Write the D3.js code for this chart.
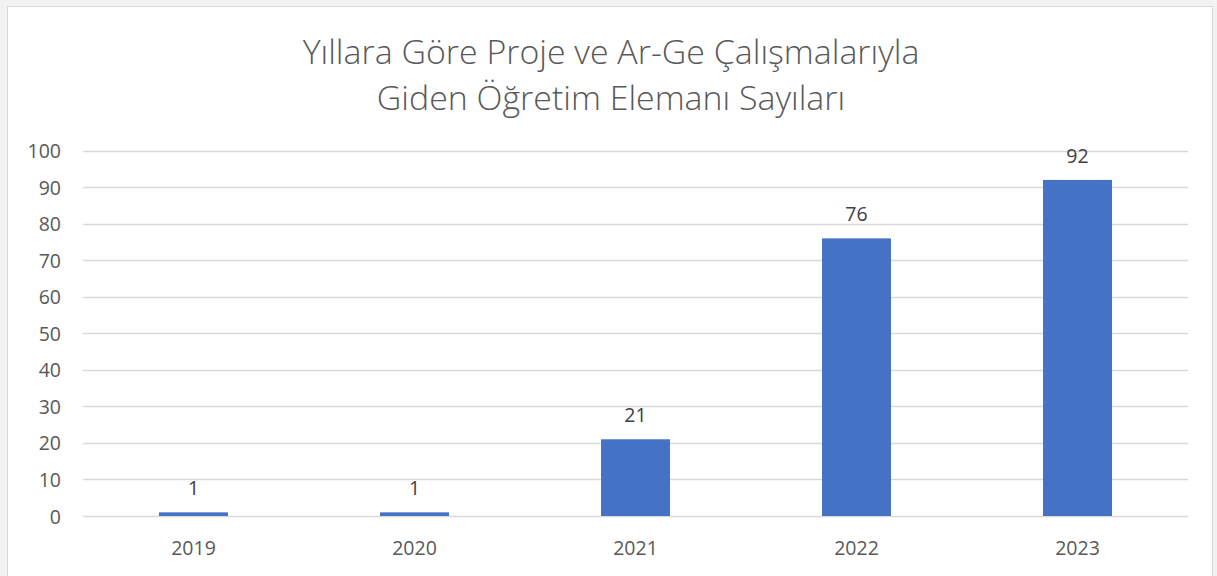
<!DOCTYPE html>
<html><head><meta charset="utf-8">
<script src="https://cdn.jsdelivr.net/npm/d3@7"></script>
<style>
html,body{margin:0;padding:0;background:#f2f2f2;}
svg{display:block;}
</style></head>
<body>
<svg id="chart" width="1217" height="576"></svg>
<script>
const titleLines = ["Yıllara Göre Proje ve Ar-Ge Çalışmalarıyla", "Giden Öğretim Elemanı Sayıları"];
const years = ["2019", "2020", "2021", "2022", "2023"];
const counts = [1, 1, 21, 76, 92];
const yTicks = [0, 10, 20, 30, 40, 50, 60, 70, 80, 90, 100];

const svg = d3.select("#chart");
const font = "'Open Sans', 'Noto Sans', sans-serif";
const labelSize = 19.5;

svg.append("rect").attr("x", 7.5).attr("y", 6.5).attr("width", 1205).attr("height", 580)
  .attr("fill", "#fff").attr("stroke", "#d9d9d9").attr("stroke-width", 1);

const m = {left: 83, right: 1188, top: 150.7, bottom: 516};
const x = d3.scaleBand().domain(years).range([m.left, m.right]).paddingInner(0.688).paddingOuter(0.344);
const y = d3.scaleLinear().domain([0, 100]).range([m.bottom, m.top]);

// gridlines
svg.append("g").selectAll("line").data(yTicks).join("line")
  .attr("x1", m.left).attr("x2", m.right)
  .attr("y1", d => Math.round(y(d)) + 0.5).attr("y2", d => Math.round(y(d)) + 0.5)
  .attr("stroke", "#d9d9d9").attr("stroke-width", 1.3);

// y axis
const yAxis = svg.append("g").attr("transform", `translate(${m.left - 22},0)`)
  .call(d3.axisLeft(y).tickValues(yTicks).tickSize(0).tickPadding(0));
yAxis.select(".domain").remove();
yAxis.selectAll("text").attr("font-family", font).attr("font-size", labelSize).attr("fill", "#595959").attr("dy", "0.36em");

// x axis
const xAxis = svg.append("g").attr("transform", `translate(0,${m.bottom})`)
  .call(d3.axisBottom(x).tickSize(0).tickPadding(0));
xAxis.select(".domain").remove();
xAxis.selectAll("text").attr("font-family", font).attr("font-size", labelSize).attr("fill", "#595959").attr("dy", "0").attr("y", 39);

// bars
svg.append("g").selectAll("rect").data(years).join("rect")
  .attr("x", d => x(d)).attr("width", x.bandwidth())
  .attr("y", (d, i) => y(counts[i])).attr("height", (d, i) => y(0) - y(counts[i]))
  .attr("fill", "#4472C4");

// value labels
svg.append("g").selectAll("text").data(years).join("text")
  .attr("x", d => x(d) + x.bandwidth() / 2)
  .attr("y", (d, i) => y(counts[i]) - 17)
  .attr("text-anchor", "middle")
  .attr("font-family", font).attr("font-size", labelSize).attr("fill", "#404040")
  .text((d, i) => counts[i]);

// title
const tl = svg.append("g").selectAll("text").data(titleLines).join("text")
  .attr("x", 611).attr("y", (d, i) => 64 + i * 46)
  .attr("text-anchor", "middle")
  .attr("font-family", font).attr("font-weight", 300).attr("font-size", 30).attr("fill", "#595959")
  .text(d => d);
const w0 = tl.nodes()[0].getComputedTextLength();
tl.attr("font-size", 30 * 617 / w0);
</script>
</body></html>
